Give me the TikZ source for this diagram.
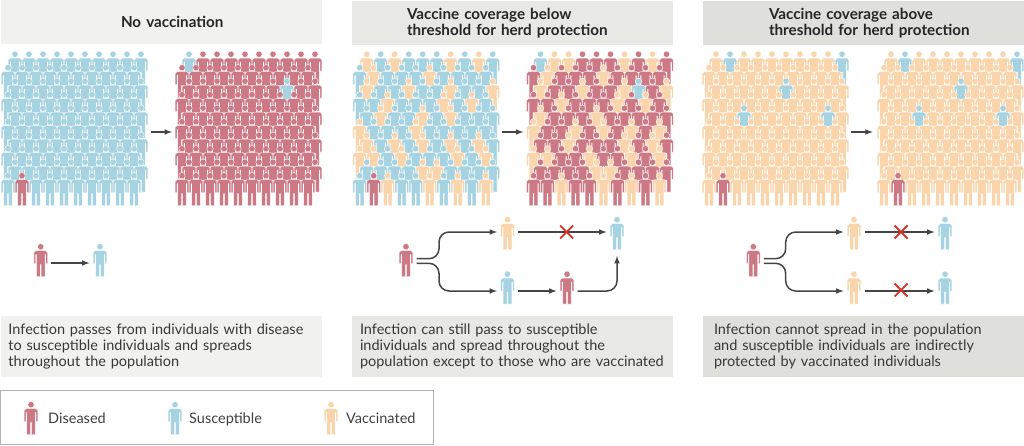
\documentclass[tikz,border=0pt]{standalone}
\usepackage{fontspec}
\setmainfont{Lato}
\usetikzlibrary{shapes,arrows,positioning,calc}

\definecolor{diseased}{HTML}{CC7985}
\definecolor{susceptible}{HTML}{A5D3E2}
\definecolor{vaccinated}{HTML}{FAD5AB}
\definecolor{flowgrey}{HTML}{454545}

\tikzset{
  person/.pic={
    \path [pic actions] (0,-13.3) circle [radius=3.2];
    \path [pic actions] (-6.8,-7.5) -- (-5,-9.3) -- (5,-9.3) -- (6.8,-7.5) -- (6.8,3.5) -- (5,3.5) -- (5,-5.5)
      -- (4.4,-5.5) -- (4.4,16.5) -- (0.4,16.5) -- (0.4,4.5) -- (-0.4,4.5) -- (-0.4,16.5) -- (-4.4,16.5) -- (-4.4,-5.5)
      -- (-5,-5.5) -- (-5,3.5) -- (-6.8,3.5) -- cycle;
  },
  d/.style={fill=diseased, draw=white, line width=0.4pt},
  s/.style={fill=susceptible, draw=white, line width=0.4pt},
  v/.style={fill=vaccinated, draw=white, line width=0.4pt},
  who/.style={minimum width=14pt, minimum height=33pt, inner sep=0pt, outer sep=3.5pt},
  flow/.style={draw=flowgrey, line width=1.5pt, -latex},
  fork/.style={flow, rounded corners=10pt},
  blocked/.style={cross out, draw={rgb,255:red,214;green,52;blue,40}, line width=1.8pt, minimum size=13pt, inner sep=0pt, outer sep=0pt},
  headbox/.style={minimum height=44pt, text width=313pt, inner xsep=4pt, inner ysep=0pt, align=left, font=\fontsize{15.2}{16.7}\selectfont\bfseries, text=black!85},
  notebox/.style={minimum height=61pt, text width=321pt-2*#1, inner xsep=#1, inner ysep=0pt, align=left, font=\fontsize{14.5}{16}\selectfont, text=black!78},
  legendtext/.style={inner sep=0pt, text height=13pt, text depth=3pt, font=\fontsize{14.5}{16}\selectfont, text=black!75}
}

% x offset, rows of people from the back to the front
\newcommand{\crowd}[2]{
  \edef\rowsall{#2}
  \foreach \line [count=\r from 0] in \rowsall {
    \foreach \who [count=\i from 0] in \line {
      \pgfmathsetmacro{\px}{#1+(isodd(\r)?8:15)+14*\i}
      \pgfmathsetmacro{\py}{67.5+13.5*\r}
      \pic [\who] at (\px,\py) {person};
    }
  }
}
\def\allS{{s,s,s,s,s,s,s,s,s,s}}
\def\allD{{d,d,d,d,d,d,d,d,d,d}}
\def\allV{{v,v,v,v,v,v,v,v,v,v}}
\def\farV{{v,s,v,v,v,v,v,v,v,s},\allV,{v,v,v,v,v,s,v,v,v,v},\allV,{v,v,s,v,v,v,v,v,s,v},\allV,\allV,\allV,\allV,{v,d,v,v,v,v,v,v,v,v}}

\begin{document}
\begin{tikzpicture}[x=1pt, y=-1pt]
    \useasboundingbox (0,0) rectangle (1024,445);

    % Headers
    \node (headone) [headbox, fill={rgb,255:red,241;green,241;blue,240}] at (161.5,22) {\hspace*{116pt}No vaccination};
    \node (headtwo) [headbox, fill={rgb,255:red,232;green,232;blue,228}] at (512.5,23) {\hspace*{51pt}Vaccine coverage below\\\hspace*{51pt}threshold for herd protection};
    \node (headthree) [headbox, fill={rgb,255:red,223;green,224;blue,219}] at (863.5,23) {\hspace*{62pt}Vaccine coverage above\\\hspace*{62pt}threshold for herd protection};

    % Crowds
    \crowd{0}{\allS,\allS,\allS,\allS,\allS,\allS,\allS,\allS,\allS,{s,d,s,s,s,s,s,s,s,s}}
    \crowd{174}{{s,d,d,d,d,d,d,d,d,d},\allD,{d,d,d,d,d,d,d,s,d,d},\allD,\allD,\allD,\allD,\allD,\allD,\allD}
    \crowd{351.7}{
      {v,s,v,s,s,s,v,s,v,s},
      {s,v,s,s,s,v,s,s,s,s},
      {v,s,s,v,s,s,v,s,s,v},
      {s,s,v,s,s,s,v,s,v,s},
      {s,v,s,s,v,s,v,s,s,s},
      {v,s,s,s,v,s,s,s,s,s},
      {v,s,v,s,v,s,v,s,v,s},
      {v,v,s,v,s,s,s,v,s,v},
      {s,s,s,s,v,v,s,s,s,s},
      {s,d,v,s,s,v,s,v,s,v}}
    \crowd{525.5}{
      {s,v,v,d,d,d,v,d,v,d},
      {d,v,d,d,d,v,d,d,d,d},
      {v,d,d,v,d,d,v,s,d,v},
      {d,d,v,d,d,d,v,d,v,d},
      {v,d,d,d,v,d,d,d,d,d},
      {v,d,d,v,d,v,d,v,d,v},
      {d,d,v,d,d,d,v,d,v,d},
      {v,v,d,d,v,d,d,v,d,v},
      {d,d,d,d,v,v,d,d,d,d},
      {d,d,v,d,d,v,d,v,d,v}}
    \crowd{701}{\farV}
    \crowd{876}{\farV}

    % Arrows between the crowds
    \foreach \arrowstart/\arrowend in {150.7/172, 501.7/523.3, 850.7/872.7} {
      \coordinate (before) at (\arrowstart,132);
      \coordinate (after) at (\arrowend,132);
      \draw [flow] (before) -- (after);
    }

    % People of the three chains
    \foreach \name/\kind/\px/\py in {
      done/d/40.7/260, sone/s/100/260,
      dtwo/d/406/260, vtwo/v/507.5/233, endtwo/s/617/233, stwo/s/507.5/287.5, nexttwo/d/567/287.5,
      dthree/d/753.3/260, vthree/v/854/233, endthree/s/945/233, lowthree/v/854/287.5, lowendthree/s/945/287.5,
      keyd/d/31/418, keys/s/175/418, keyv/v/331/418} {
      \node (\name) [who] at (\px,\py) {};
      \pic [\kind] at (\name) {person};
    }

    % Bends of the forks
    \coordinate (kneeuptwo) at (439,232);
    \coordinate (kneelowtwo) at (439,291);
    \coordinate (kneeupthree) at (785.7,232);
    \coordinate (kneelowthree) at (785.7,291);

    % Arrows
    \draw [flow] ([yshift=-3pt]done.east) -- ([yshift=-3pt]sone.west);

    \draw [fork] ([yshift=1.3pt]dtwo.east) -| (kneeuptwo) -- (vtwo.west |- kneeuptwo);
    \draw [fork] ([yshift=-3.3pt]dtwo.east) -| (kneelowtwo) -- (stwo.west |- kneelowtwo);
    \draw [flow] (vtwo.east |- kneeuptwo) -- (endtwo.west |- kneeuptwo);
    \draw [flow] (stwo.east |- kneelowtwo) -- (nexttwo.west |- kneelowtwo);
    \draw [fork, shorten >=3pt] (nexttwo.east |- kneelowtwo) -| (endtwo.south);

    \draw [fork] ([yshift=1.3pt]dthree.east) -| (kneeupthree) -- (vthree.west |- kneeupthree);
    \draw [fork] ([yshift=-3.3pt]dthree.east) -| (kneelowthree) -- (lowthree.west |- kneelowthree);
    \draw [flow] (vthree.east |- kneeupthree) -- (endthree.west |- kneeupthree);
    \draw [flow] (lowthree.east |- kneelowthree) -- (lowendthree.west |- kneelowthree);

    % Crosses on the blocked arrows
    \node (stoptwo) [blocked] at (566.7,232) {};
    \node (stopthree) [blocked] at (901,232) {};
    \node (stoplow) [blocked] at (901,290) {};

    % Explanations
    \node (noteone) [notebox=7.5pt, fill={rgb,255:red,241;green,241;blue,240}] at (161.5,346.5) {Infection passes from individuals with disease\\to susceptible individuals and spreads\\throughout the population};
    \node (notetwo) [notebox=8pt, fill={rgb,255:red,232;green,232;blue,228}] at (512.5,346.5) {Infection can still pass to susceptible\\individuals and spread throughout the\\population except to those who are vaccinated};
    \node (notethree) [notebox=11pt, fill={rgb,255:red,223;green,224;blue,219}] at (863.5,346.5) {Infection cannot spread in the population\\and susceptible individuals are indirectly\\protected by vaccinated individuals};

    % Legend
    \node (legendbox) [draw=black!30, line width=1pt, minimum width=433.5pt, minimum height=54pt, inner sep=0pt] at (217.2,417) {};
    \node (labeld) [legendtext, right=6.5pt of keyd] {Diseased};
    \node (labels) [legendtext, right=3.5pt of keys] {Susceptible};
    \node (labelv) [legendtext, right=4.5pt of keyv] {Vaccinated};
\end{tikzpicture}
\end{document}
